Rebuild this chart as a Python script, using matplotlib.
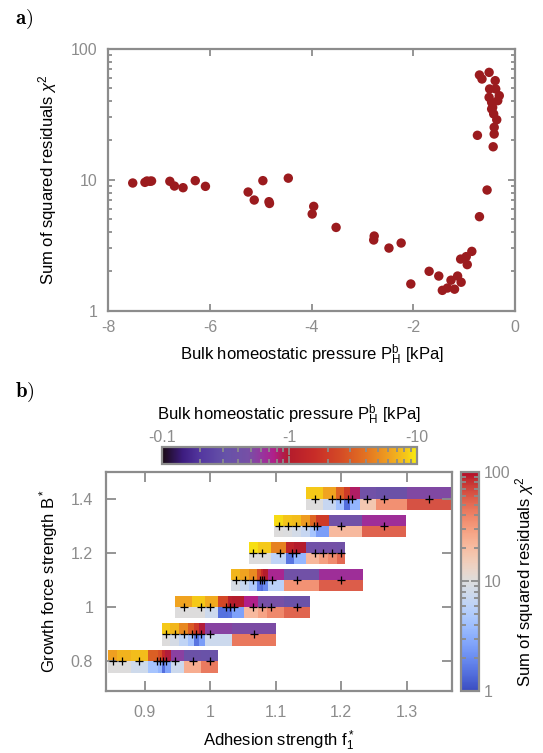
import matplotlib
matplotlib.use('Agg')
import matplotlib.pyplot as plt
import numpy as np
from matplotlib.colors import LinearSegmentedColormap, LogNorm
from matplotlib.ticker import FixedLocator, LogLocator, NullFormatter
import matplotlib.cm as cm

plt.rcParams['font.family'] = ['Liberation Sans', 'DejaVu Sans']
plt.rcParams['mathtext.fontset'] = 'custom'
plt.rcParams['mathtext.rm'] = 'Liberation Sans'
plt.rcParams['mathtext.it'] = 'Liberation Sans:italic'

GRAY = '#8c8c8c'

# panel a: bulk homeostatic pressure [kPa] vs chi^2
p_a = [-7.52, -7.28, -7.24, -7.18, -7.15, -6.79, -6.70, -6.53, -6.29, -6.09,
       -5.25, -5.13, -4.96, -4.84, -4.83, -4.46, -3.96, -3.99, -3.52, -2.77,
       -2.78, -2.48, -2.24, -2.05, -1.69, -1.50, -1.43, -1.33, -1.26, -1.19,
       -1.13, -1.06, -1.07, -0.96, -0.94, -0.85, -0.70, -0.55, -0.74, -0.70,
       -0.65, -0.51, -0.39, -0.50, -0.51, -0.38, -0.31, -0.34, -0.46, -0.46,
       -0.42, -0.36, -0.41, -0.41, -0.43, -0.44]
chi_a = [9.46, 9.57, 9.8, 9.75, 9.8, 9.75, 8.97, 8.71, 9.86, 8.92,
         8.07, 7.01, 9.86, 6.81, 6.6, 10.3, 6.27, 5.48, 4.33, 3.72,
         3.47, 3.01, 3.29, 1.60, 2.0, 1.84, 1.43, 1.49, 1.71, 1.46,
         1.84, 1.65, 2.48, 2.59, 2.25, 2.84, 5.23, 8.36, 21.9, 63.3,
         59.0, 66.3, 57.3, 49.5, 42.7, 49.5, 44.0, 40.3, 39.1, 34.8,
         31.9, 28.8, 25.2, 22.4, 17.9, 35.8]

# panel b: growth force strength rows, adhesion strength samples
b_rows = [0.8, 0.9, 1.0, 1.1, 1.2, 1.3, 1.4]
f1_rows = [
    [0.851, 0.865, 0.8915, 0.918, 0.923, 0.928, 0.9328, 0.946, 0.9727, 0.9988],
    [0.9323, 0.9458, 0.9592, 0.972, 0.978, 0.9858, 0.999, 1.0663],
    [0.959, 0.986, 0.999, 1.0245, 1.0293, 1.0363, 1.0659, 1.0797, 1.0932, 1.1323],
    [1.039, 1.053, 1.0655, 1.0762, 1.0794, 1.0823, 1.0935, 1.132, 1.1996],
    [1.0655, 1.079, 1.106, 1.125, 1.131, 1.16, 1.173, 1.1865, 1.1996],
    [1.1045, 1.118, 1.1315, 1.1455, 1.159, 1.1635, 1.1992, 1.2659],
    [1.1597, 1.1862, 1.1990, 1.2112, 1.2163, 1.2400, 1.2660, 1.3340],
]
p_rows = [
    [-6.0, -7.0, -7.6, -3.2, -2.6, -1.4, -0.95, -0.56, -0.36, -0.34],
    [-8.3, -7.2, -4.8, -3.0, -2.0, -0.95, -0.55, -0.5],
    [-6.2, -8.3, -6.6, -2.4, -1.1, -1.0, -0.75, -0.48, -0.47, -0.35],
    [-7.2, -6.2, -5.0, -2.5, -1.5, -1.0, -0.72, -0.42, -0.66],
    [-9.3, -8.3, -4.6, -1.25, -1.0, -0.42, -0.44, -0.46, -0.42],
    [-9.0, -8.0, -7.5, -5.8, -3.4, -2.0, -0.42, -0.66],
    [-8.3, -6.2, -3.3, -2.0, -0.85, -0.42, -0.36, -0.52],
]
chi_rows = [
    [10, 10, 7.8, 4.4, 3.5, 1.45, 2.7, 7.6, 25, 44],
    [10, 8.8, 6.3, 4.3, 1.55, 2.5, 7.6, 45],
    [10, 10, 7.6, 1.5, 1.55, 2.6, 21, 28, 38, 54],
    [9.0, 6.9, 5.0, 1.6, 1.45, 2.0, 5.8, 34, 58],
    [10, 10, 6.2, 1.55, 3.5, 22, 29, 37, 52],
    [10, 9.8, 8.5, 6.9, 4.4, 2.5, 21, 55],
    [10, 6.9, 4.2, 1.45, 3.5, 17, 35, 63],
]

p_cmap = LinearSegmentedColormap.from_list('pressure', [
    (0.0, '#1a0a14'), (0.08, '#3d1c80'), (0.15, '#5438a0'), (0.25, '#6652a8'),
    (0.34, '#7650a6'), (0.40, '#9a329c'), (0.44, '#b0208a'), (0.475, '#b01c50'),
    (0.5, '#b41c2c'), (0.6, '#c82c28'), (0.7, '#d44a26'), (0.8, '#e27222'),
    (0.9, '#f0a420'), (0.96, '#f5c818'), (1.0, '#f8ee10')])
p_norm = LogNorm(0.1, 10)
chi_cmap = plt.get_cmap('coolwarm')
chi_norm = LogNorm(1, 100)


def cell_edges(c):
    c = np.asarray(c, dtype=float)
    mid = (c[1:] + c[:-1]) / 2
    return np.concatenate([[2 * c[0] - mid[0]], mid, [2 * c[-1] - mid[-1]]])


def gray_axes(ax):
    for s in ax.spines.values():
        s.set_color(GRAY)
        s.set_linewidth(1.6)
    ax.tick_params(which='both', direction='in', color=GRAY, labelcolor=GRAY,
                   top=True, right=True, width=1.3, labelsize=11.5)
    ax.tick_params(which='major', length=5)
    ax.tick_params(which='minor', length=3)


fig = plt.figure(figsize=(5.43, 7.53), dpi=100)

# ---- panel a
ax1 = fig.add_axes([0.1995, 0.5874, 0.749, 0.3475])
ax1.scatter(p_a, chi_a, s=46, color='#9b1b1e', edgecolors='none', zorder=3)
ax1.set_yscale('log')
ax1.set_xlim(-8, 0)
ax1.set_ylim(1, 100)
ax1.set_xticks([-8, -6, -4, -2, 0])
ax1.set_xticklabels(['-8', '-6', '-4', '-2', '0'])
ax1.yaxis.set_major_locator(FixedLocator([1, 10, 100]))
ax1.set_yticklabels(['1', '10', '100'])
ax1.yaxis.set_minor_locator(LogLocator(base=10, subs=np.arange(2, 10)))
ax1.yaxis.set_minor_formatter(NullFormatter())
gray_axes(ax1)
ax1.tick_params(axis='x', pad=7)
ax1.tick_params(axis='y', pad=8)
ax1.set_xlabel(r'Bulk homeostatic pressure $\mathrm{P_H^b}$ [kPa]', fontsize=12, labelpad=5)
ax1.set_ylabel(r'Sum of squared residuals $\chi^2$', fontsize=12, labelpad=8)

# ---- panel b
ax2 = fig.add_axes([0.1947, 0.0823, 0.6383, 0.2912])
h = 0.042
for b, f1, p, chi in zip(b_rows, f1_rows, p_rows, chi_rows):
    xe = cell_edges(f1)
    ax2.pcolormesh(xe, [b, b + h], np.abs(np.array(p))[None, :],
                   cmap=p_cmap, norm=p_norm, shading='flat')
    ax2.pcolormesh(xe, [b - h, b], np.array(chi)[None, :],
                   cmap=chi_cmap, norm=chi_norm, shading='flat')
    ax2.plot(f1, [b] * len(f1), '+', color='black', ms=5.5, mew=0.9, zorder=4)
ax2.set_xlim(0.84, 1.37)
ax2.set_ylim(0.69, 1.5)
ax2.set_xticks([0.9, 1.0, 1.1, 1.2, 1.3])
ax2.set_xticklabels(['0.9', '1', '1.1', '1.2', '1.3'])
ax2.set_yticks([0.8, 1.0, 1.2, 1.4])
ax2.set_yticklabels(['0.8', '1', '1.2', '1.4'])
gray_axes(ax2)
ax2.tick_params(which='major', length=7)
ax2.tick_params(axis='x', pad=10)
ax2.tick_params(axis='y', pad=9)
ax2.set_xlabel(r'Adhesion strength $\mathrm{f}_1^*$', fontsize=12, labelpad=6)
ax2.set_ylabel(r'Growth force strength $\mathrm{B}^*$', fontsize=12, labelpad=8)

# pressure colorbar
cax_p = fig.add_axes([0.2978, 0.3838, 0.4696, 0.023])
cb_p = fig.colorbar(cm.ScalarMappable(norm=p_norm, cmap=p_cmap), cax=cax_p,
                    orientation='horizontal')
cb_p.outline.set_edgecolor(GRAY)
cb_p.outline.set_linewidth(1.6)
cax_p.xaxis.set_ticks_position('both')
cax_p.xaxis.set_major_locator(FixedLocator([0.1, 1, 10]))
cax_p.set_xticklabels(['-0.1', '-1', '-10'])
cax_p.xaxis.set_minor_locator(LogLocator(base=10, subs=np.arange(2, 10)))
cax_p.xaxis.set_minor_formatter(NullFormatter())
cax_p.tick_params(which='both', direction='in', color=GRAY, labelcolor=GRAY,
                  top=True, bottom=True, labeltop=True, labelbottom=False,
                  width=1.3, labelsize=11.5, pad=1.5)
cax_p.tick_params(which='major', length=6)
cax_p.tick_params(which='minor', length=3.5)
cax_p.xaxis.set_label_position('top')
cax_p.set_xlabel(r'Bulk homeostatic pressure $\mathrm{P_H^b}$ [kPa]', fontsize=12, labelpad=7)

# chi^2 colorbar
cax_c = fig.add_axes([0.8484, 0.0823, 0.0343, 0.2912])
cb_c = fig.colorbar(cm.ScalarMappable(norm=chi_norm, cmap=chi_cmap), cax=cax_c)
cb_c.outline.set_edgecolor(GRAY)
cb_c.outline.set_linewidth(1.6)
cax_c.yaxis.set_ticks_position('both')
cax_c.yaxis.set_major_locator(FixedLocator([1, 10, 100]))
cax_c.set_yticklabels(['1', '10', '100'])
cax_c.yaxis.set_minor_locator(LogLocator(base=10, subs=np.arange(2, 10)))
cax_c.yaxis.set_minor_formatter(NullFormatter())
cax_c.tick_params(which='both', direction='in', color=GRAY, labelcolor=GRAY,
                  left=True, right=True, labelleft=False, labelright=True,
                  width=1.3, labelsize=11.5)
cax_c.tick_params(which='major', length=6)
cax_c.tick_params(which='minor', length=3.5)
cax_c.yaxis.set_label_position('right')
cax_c.set_ylabel(r'Sum of squared residuals $\chi^2$', fontsize=12, labelpad=2)

fig.text(0.028, 0.974, r'$\mathbf{a)}$', math_fontfamily='cm', fontsize=15, va='center')
fig.text(0.028, 0.479, r'$\mathbf{b)}$', math_fontfamily='cm', fontsize=15, va='center')

fig.savefig('out.png', dpi=100)
